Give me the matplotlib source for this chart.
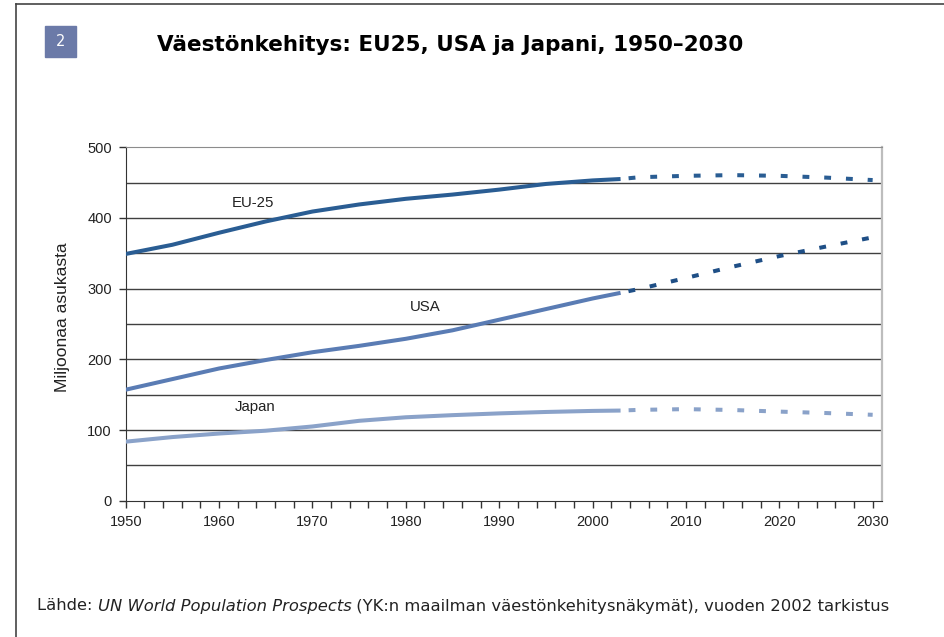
import numpy as np
import matplotlib
matplotlib.use('Agg')
import matplotlib.pyplot as plt
from matplotlib.lines import Line2D
from matplotlib.patches import Rectangle

# ---------------------------------------------------------
# Data (millions)
# ---------------------------------------------------------
hist_years = [1950, 1955, 1960, 1965, 1970, 1975, 1980, 1985, 1990, 1995, 2000, 2003]
eu_hist = [349, 362, 379, 395, 409, 419, 427, 433, 440, 448, 453, 455]
usa_hist = [157, 172, 187, 199, 210, 219, 229, 241, 256, 271, 286, 294]
jpn_hist = [83.5, 90, 95, 99, 105, 113, 118, 121, 123.5, 125.5, 127, 127.5]

proj_years = [2003, 2005, 2010, 2015, 2020, 2025, 2030]
eu_proj = [455, 457.5, 459.5, 460.5, 459.5, 457, 453.5]
usa_proj = [294, 299.5, 315, 331, 346, 359.5, 372.5]
jpn_proj = [127.5, 128.5, 129.5, 128.3, 126, 124, 121.5]

labels = ["EU-25", "USA", "Japan"]
label_pos = [(1963.6, 420.7), (1982.1, 274.4), (1963.9, 133)]

title = "Väestönkehitys: EU25, USA ja Japani, 1950–2030"
ylabel = "Miljoonaa asukasta"

# ---------------------------------------------------------
# Figure
# ---------------------------------------------------------
W, H = 944, 637
fig = plt.figure(figsize=(W / 100, H / 100), dpi=100)
fig.patch.set_facecolor('white')

# page frame (top + left)
fig.add_artist(Line2D([16 / W, 1], [1 - 4 / H, 1 - 4 / H], color='#444444', lw=1.2))
fig.add_artist(Line2D([16 / W, 16 / W], [0, 1 - 4 / H], color='#444444', lw=1.2))

# number badge
fig.add_artist(Rectangle((45 / W, 1 - 57 / H), 31 / W, 31 / H, color='#6b7aa8',
                         transform=fig.transFigure))
fig.text(60.5 / W, 1 - 41.5 / H, "2", color='white', fontsize=10.5,
         ha='center', va='center', family='DejaVu Sans')

fig.text(450 / W, 1 - 45 / H, title, fontsize=15.5, fontweight='bold',
         ha='center', va='center', family='DejaVu Sans', color='black')

ax = fig.add_axes([125.7 / W, 1 - 500.7 / H, (882 - 125.7) / W, (500.7 - 147.2) / H])

sans = 'Liberation Sans'
c_eu = '#2a5d93'
c_usa = '#5a7cb4'
c_usa_p = '#1f4f86'
c_jpn = '#8aa2c9'

dash = (3.4, (1.7, 3.7))
ax.plot(hist_years, jpn_hist, color=c_jpn, lw=2.9, solid_capstyle='butt', zorder=3)
ax.plot(proj_years, jpn_proj, color=c_jpn, lw=2.9, linestyle=dash, dash_capstyle='butt', zorder=3)
ax.plot(hist_years, usa_hist, color=c_usa, lw=2.9, solid_capstyle='butt', zorder=3)
ax.plot(proj_years, usa_proj, color=c_usa_p, lw=2.9, linestyle=dash, dash_capstyle='butt', zorder=3)
ax.plot(hist_years, eu_hist, color=c_eu, lw=2.9, solid_capstyle='butt', zorder=3)
ax.plot(proj_years, eu_proj, color=c_eu, lw=2.9, linestyle=dash, dash_capstyle='butt', zorder=3)

for lab, (lx, ly) in zip(labels, label_pos):
    ax.text(lx, ly, lab, fontsize=10.8, family=sans, color='#222222', ha='center', va='center')

ax.set_xlim(1950, 2031)
ax.set_ylim(0, 500)

# grid every 50
for g in range(50, 500, 50):
    ax.axhline(g, color='#404040', lw=1.0, zorder=1)

ax.set_yticks(range(0, 501, 100))
ax.set_xticks(range(1950, 2031, 10))
ax.set_xticks(range(1950, 2031, 2), minor=True)
ax.tick_params(axis='y', length=5, width=1, color='#333333', pad=5,
               labelsize=10.5, labelcolor='#222222')
ax.tick_params(axis='x', which='both', length=5, width=1, color='#333333', pad=5,
               labelsize=10.5, labelcolor='#222222')
for t in ax.get_xticklabels() + ax.get_yticklabels():
    t.set_family(sans)

ax.spines['left'].set_color('#333333')
ax.spines['bottom'].set_color('#333333')
ax.spines['top'].set_color('#8c8c8c')
ax.spines['right'].set_color('#bdbdbd')
ax.spines['right'].set_linewidth(1.6)

fig.text(62 / W, 1 - 317.5 / H, ylabel, rotation=90, fontsize=12.5, family=sans,
         ha='center', va='center', color='#222222')

# source line with italic part, sized to span the same width as the original
renderer = fig.canvas.get_renderer()
pieces = [("Lähde: ", 'normal'),
          ("UN World Population Prospects", 'italic'),
          (" (YK:n maailman väestönkehitysnäkymät), vuoden 2002 tarkistus", 'normal')]
x0, x1 = 37, 885
size = 10.0
probe = 0
for txt, style in pieces:
    t = fig.text(0, 0, txt, fontsize=size, style=style, family='DejaVu Sans')
    probe += t.get_window_extent(renderer).width
    t.remove()
size = size * (x1 - x0) / probe

x = x0 / W
for txt, style in pieces:
    t = fig.text(x, 1 - 606 / H, txt, fontsize=size, style=style, family='DejaVu Sans',
                 ha='left', va='center', color='#222222')
    x += t.get_window_extent(renderer).width / W

fig.savefig('out.png', dpi=100)
